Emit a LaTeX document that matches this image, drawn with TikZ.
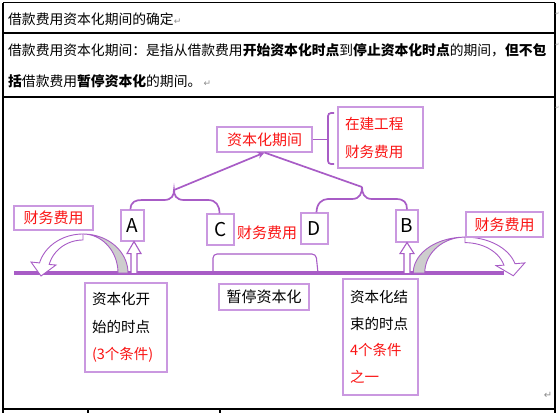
\documentclass[tikz,border=0pt]{standalone}
\usepackage{fontspec}
\setmainfont{Noto Sans CJK SC}
\newfontfamily\symfont{DejaVu Sans}
\usetikzlibrary{arrows.meta,calc}
\definecolor{pline}{RGB}{168,92,198}
\definecolor{pbox}{RGB}{202,152,224}
\definecolor{cred}{RGB}{250,20,20}
\definecolor{cgray}{RGB}{205,205,205}
\definecolor{pmark}{RGB}{140,140,140}
\newcommand{\retm}[1][9]{{\symfont\fontsize{#1}{#1}\selectfont\textcolor{pmark}{↵}}}
\tikzset{
  box/.style={draw=pbox, line width=1.1pt, fill=white, inner sep=0pt, font=\fontsize{15}{18}\selectfont},
  letterbox/.style={box, font=\fontsize{19}{22}\selectfont},
  tline/.style={line width=1.2pt, black},
  pl/.style={draw=pline, line width=1.7pt},
  hollow/.style={draw=pline, line width=1.1pt, fill=white},
  hdr/.style={anchor=west, inner sep=0pt, font=\fontsize{13.8}{16}\selectfont},
  carrow/.pic={
    \filldraw[fill=cgray, draw=pline, line width=0.9pt]
      plot[domain=0:90, samples=25] ({45*cos(\x)},{-39*sin(\x)})
      -- plot[domain=90:0, samples=25] ({35*cos(\x)},{-39*sin(\x)}) -- cycle;
    \filldraw[fill=white, draw=pline, line width=0.9pt]
      plot[domain=90:165, samples=25] ({45*cos(\x)},{-39*sin(\x)})
      -- (-52,-11) -- (-42,3) -- (-27,-8)
      -- plot[domain=165:90, samples=25] ({35*cos(\x)},{-33*sin(\x)}) -- cycle;
  }
}
\begin{document}
\begin{tikzpicture}[x=1pt,y=-1pt]
\useasboundingbox (0,0) rectangle (559,413);
% table
\draw[tline] (3,2.5) -- (555,2.5);
\draw[tline] (3,33) -- (555,33);
\draw[tline] (3,97) -- (555,97);
\draw[tline] (3,409) -- (555,409);
\draw[tline] (3,2.5) -- (3,413);
\draw[tline] (555,2.5) -- (555,413);
\draw[tline] (88,409) -- (88,413);
\draw[tline] (220,409) -- (220,413);
% header texts
\node[hdr] (t1) at (8,19) {借款费用资本化期间的确定\retm};
\node[hdr] (t2) at (8,50) {借款费用资本化期间：是指从借款费用\textbf{开始资本化时点}到\textbf{停止资本化时点}的期间，\textbf{但不包}};
\node[hdr] (t3) at (8,81) {\textbf{括}借款费用\textbf{暂停资本化}的期间。\,\retm};
\node[inner sep=0pt] (m1) at (557.3,14) {\retm[5]};
\node[inner sep=0pt] (m2) at (557.3,45) {\retm[5]};
\node[inner sep=0pt] (m3) at (557.3,108) {\retm[5]};
\node[inner sep=0pt] (m4) at (548,395) {\retm[10]};
% baseline
\draw[draw=pline, line width=3.5pt] (14,273) -- (504,273);
% curved arrows
\pic at (83,273) {carrow};
\pic[xscale=-1.15, yscale=0.92] at (465,273) {carrow};
% boxes
\node[box, minimum width=95pt, minimum height=25pt, text=cred] (period) at (264.5,139.5) {资本化期间};
\node[box, text width=71pt, inner xsep=7pt, minimum height=61pt, align=left, text=cred,
      font=\fontsize{14.6}{28}\selectfont] (cip) at (380.5,137.5) {在建工程\\财务费用};
\node[box, minimum width=79pt, minimum height=24pt, text=cred] (fl) at (53.5,218) {财务费用};
\node[box, minimum width=77pt, minimum height=25pt, text=cred] (fr) at (504.5,224.5) {财务费用};
\node[inner sep=0pt, text=cred, font=\fontsize{15}{18}\selectfont] (fm) at (267,233) {财务费用};
\node[letterbox, minimum width=23pt, minimum height=31pt] (A) at (132.5,225.5) {A};
\node[letterbox, minimum width=27pt, minimum height=31pt] (C) at (220.5,229.5) {C};
\node[letterbox, minimum width=27pt, minimum height=31pt] (D) at (314.5,228.5) {D};
\node[letterbox, minimum width=22pt, minimum height=32pt] (B) at (407,226) {B};
\node[box, minimum width=90pt, minimum height=26pt] (pause) at (264,297) {暂停资本化};
\node[box, text width=68pt, inner xsep=7pt, minimum height=89pt, align=left,
      font=\fontsize{14.5}{27.5}\selectfont] (start) at (126,327.5)
      {资本化开\\始的时点\\\textcolor{cred}{(3个条件)}};
\node[box, text width=61pt, inner xsep=7pt, minimum height=116pt, align=left,
      font=\fontsize{14.5}{26.7}\selectfont] (stop) at (380.5,337)
      {资本化结\\束的时点\\\textcolor{cred}{4个条件}\\\textcolor{cred}{之一}};
% pause bracket
\draw[draw=pline, line width=1.1pt, rounded corners=4pt] (213,273) -- (213,254) -- (316,254) -- (318,273);
% hollow up arrows
\draw[hollow] ($(A.south)+(1.5,0)$) -- ++(7,12) -- ++(-4,0) -- ++(0,20) -- ++(-6,0) -- ++(0,-20) -- ++(-4,0) -- cycle;
\draw[hollow] (B.south) -- ++(7,11) -- ++(-4,0) -- ++(0,20) -- ++(-6,0) -- ++(0,-20) -- ++(-4,0) -- cycle;
% braces
\coordinate (ltip) at (174,190);
\coordinate (rtip) at (362,187);
\draw[pl] ($(A.north)+(-2,0)$) .. controls +(0,-8) and +(-6,0) .. (142,200) -- (164,200)
   .. controls +(8,0) and +(0,5) .. (ltip)
   .. controls +(0,5) and +(-8,0) .. (184,200) -- (208,200)
   .. controls +(8,0) and +(0,-8) .. ($(C.north)+(-1,0)$);
\draw[pl] ($(D.north)+(2,0)$) .. controls +(0,-9) and +(-6,0) .. (328,199) -- (352,199)
   .. controls +(8,0) and +(0,6) .. (rtip)
   .. controls +(0,6) and +(-8,0) .. (372,199) -- (396,199)
   .. controls +(8,0) and +(0,-7) .. (B.north);
% connectors to period
\draw[pl] (rtip) -- (period.south);
\draw[pl, -{Stealth[length=7pt,width=7pt]}] (ltip) -- (period.south);
% side bracket
\draw[pl] (period.east) -- ++(16,0);
\draw[pl, rounded corners=3pt] (334,113) -- (328,113) -- (328,164) -- (334,164);
\end{tikzpicture}
\end{document}
